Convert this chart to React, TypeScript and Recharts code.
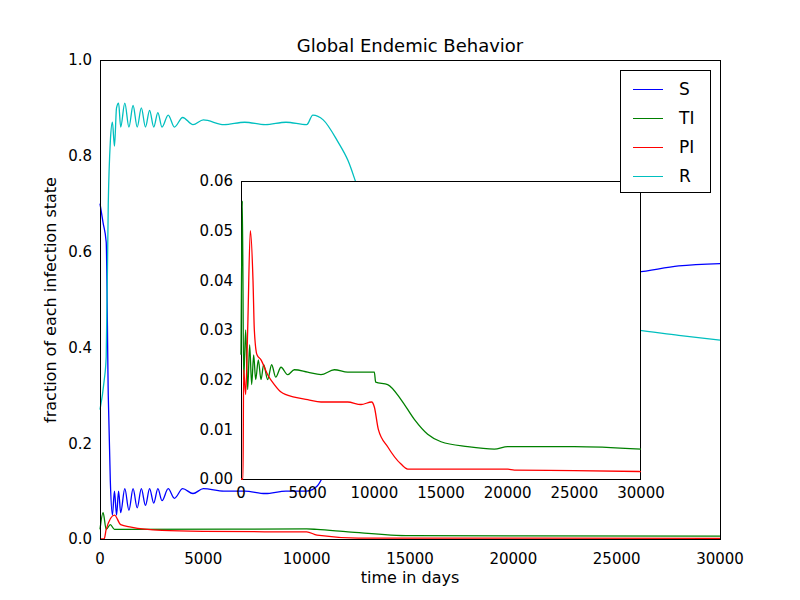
import { LineChart, Line, XAxis, YAxis } from "recharts";

type P = [number, number];

const sMain: P[] = [[0,.70],[150,.66],[300,.62],[400,.3],[500,.12],[600,.05],[700,.1],[800,.05],[900,.1],[1000,.055],[1200,.105],[1400,.06],[1600,.105],[1800,.065],[2000,.105],[2200,.07],[2400,.105],[2600,.075],[2800,.105],[3000,.08],[3300,.105],[3600,.085],[4000,.105],[4500,.095],[5000,.105],[6000,.1],[7000,.1],[8000,.095],[9000,.1],[10000,.1],[10500,.11],[11000,.15],[12000,.25],[13000,.35],[14000,.42],[15000,.47],[17000,.52],[20000,.54],[23000,.55],[26000,.557],[28000,.57],[30000,.575]];
const rMain: P[] = [[0,.27],[200,.33],[300,.38],[400,.7],[500,.83],[600,.87],[700,.82],[800,.9],[900,.91],[1000,.86],[1200,.91],[1400,.86],[1600,.905],[1800,.86],[2000,.9],[2200,.86],[2400,.895],[2600,.86],[2800,.89],[3000,.86],[3300,.885],[3600,.86],[4000,.88],[4500,.865],[5000,.875],[6000,.865],[7000,.87],[8000,.865],[9000,.87],[10000,.865],[10300,.885],[10800,.875],[11500,.83],[12000,.79],[12500,.73],[13500,.63],[15000,.53],[18000,.47],[22000,.45],[26000,.436],[28000,.425],[30000,.415]];
const tiMain: P[] = [[0,.02],[150,.055],[300,.02],[500,.03],[700,.02],[10000,.021],[10500,.02],[12000,.015],[15000,.007],[30000,.006]];
const piMain: P[] = [[0,0],[200,0],[300,.02],[700,.05],[1000,.03],[1500,.025],[3000,.018],[5000,.016],[9000,.015],[10000,.015],[10500,.008],[12500,.002],[30000,.0015]];

const tiInset: P[] = [[0,.025],[100,.056],[200,.02],[350,.03],[500,.018],[650,.027],[800,.019],[950,.025],[1100,.02],[1300,.024],[1500,.02],[1700,.023],[2000,.02],[2300,.023],[2600,.0205],[3000,.0225],[3500,.021],[4000,.022],[5000,.0215],[6000,.021],[7000,.022],[8000,.0215],[9000,.0215],[10000,.0215],[10100,.0195],[11000,.019],[12000,.016],[13000,.012],[14000,.009],[15000,.0075],[17000,.0065],[19000,.006],[20000,.0065],[25000,.0065],[30000,.006]];
const piInset: P[] = [[0,0],[150,0],[200,.022],[350,.017],[500,.03],[700,.05],[900,.04],[1000,.03],[1200,.025],[1500,.024],[2000,.021],[2500,.019],[3000,.0175],[4000,.0165],[5000,.016],[6000,.0155],[8000,.0155],[9000,.015],[9800,.0155],[10000,.0145],[10300,.01],[11000,.0065],[12000,.003],[12500,.002],[15000,.002],[20000,.002],[20500,.0018],[25000,.0017],[30000,.0015]];

const xTicks = [0, 5000, 10000, 15000, 20000, 25000, 30000];
const yTicksMain = [0, 0.2, 0.4, 0.6, 0.8, 1.0];
const yTicksInset = [0, 0.01, 0.02, 0.03, 0.04, 0.05, 0.06];
const legendNames = ["S", "TI", "PI", "R"];

const C = { S: "#0000ff", TI: "#008000", PI: "#ff0000", R: "#00bfbf" };
const font = "'DejaVu Sans', sans-serif";
const tick = { fontSize: 15, fill: "#000", fontFamily: font };
const toRows = (p: P[]) => p.map(([t, v]) => ({ t, v }));

export default function App() {
  return (
    <div style={{ position: "absolute", left: 0, top: 0, width: 800, height: 600, background: "#fff", fontFamily: font }}>
      <div style={{ position: "absolute", left: 100, top: 35, width: 620, textAlign: "center", fontSize: 18 }}>Global Endemic Behavior</div>
      <div style={{ position: "absolute", left: 100, top: 568, width: 620, textAlign: "center", fontSize: 16 }}>time in days</div>
      <div style={{ position: "absolute", left: 50, top: 300, fontSize: 16, transform: "translate(-50%,-50%) rotate(-90deg)", whiteSpace: "nowrap" }}>fraction of each infection state</div>
      <div style={{ position: "absolute", left: 0, top: 0 }}>
        <LineChart width={800} height={600} margin={{ top: 60, right: 80, left: 50, bottom: 21 }}>
          <XAxis type="number" dataKey="t" domain={[0, 30000]} ticks={xTicks} tick={tick} tickLine={false} tickMargin={8} axisLine={false} height={40} />
          <YAxis type="number" dataKey="v" domain={[0, 1]} ticks={yTicksMain} tick={tick} tickLine={false} axisLine={false} width={50} tickFormatter={(v: number) => v.toFixed(1)} />
          <Line type="monotone" data={toRows(sMain)} dataKey="v" stroke={C.S} dot={false} isAnimationActive={false} strokeWidth={1.3} />
          <Line type="monotone" data={toRows(tiMain)} dataKey="v" stroke={C.TI} dot={false} isAnimationActive={false} strokeWidth={1.3} />
          <Line type="monotone" data={toRows(piMain)} dataKey="v" stroke={C.PI} dot={false} isAnimationActive={false} strokeWidth={1.3} />
          <Line type="monotone" data={toRows(rMain)} dataKey="v" stroke={C.R} dot={false} isAnimationActive={false} strokeWidth={1.3} />
        </LineChart>
      </div>
      <div style={{ position: "absolute", left: 100, top: 60, width: 619, height: 478, border: "1px solid #000" }} />
      <div style={{ position: "absolute", left: 241, top: 181, width: 398, height: 297, border: "1px solid #000", background: "#fff" }} />
      <div style={{ position: "absolute", left: 191, top: 171 }}>
        <LineChart width={490} height={338} margin={{ top: 10, right: 40, left: 10, bottom: 0 }}>
          <XAxis type="number" dataKey="t" domain={[0, 30000]} ticks={xTicks} tick={tick} tickLine={false} tickMargin={2} axisLine={false} height={30} />
          <YAxis type="number" dataKey="v" domain={[0, 0.06]} ticks={yTicksInset} tick={tick} tickLine={false} axisLine={false} width={40} tickFormatter={(v: number) => v.toFixed(2)} />
          <Line type="monotone" data={toRows(tiInset)} dataKey="v" stroke={C.TI} dot={false} isAnimationActive={false} strokeWidth={1.3} />
          <Line type="monotone" data={toRows(piInset)} dataKey="v" stroke={C.PI} dot={false} isAnimationActive={false} strokeWidth={1.3} />
        </LineChart>
      </div>
      <div style={{ position: "absolute", left: 620, top: 70, width: 89, height: 121, border: "1px solid #000", background: "#fff" }}>
        {legendNames.map((n, i) => (
          <div key={n} style={{ position: "absolute", left: 12, top: 8 + i * 29, display: "flex", alignItems: "center", fontSize: 17 }}>
            <div style={{ width: 30, height: 0, borderTop: `1.3px solid ${C[n as keyof typeof C]}`, marginRight: 16 }} />
            <span>{n}</span>
          </div>
        ))}
      </div>
    </div>
  );
}
